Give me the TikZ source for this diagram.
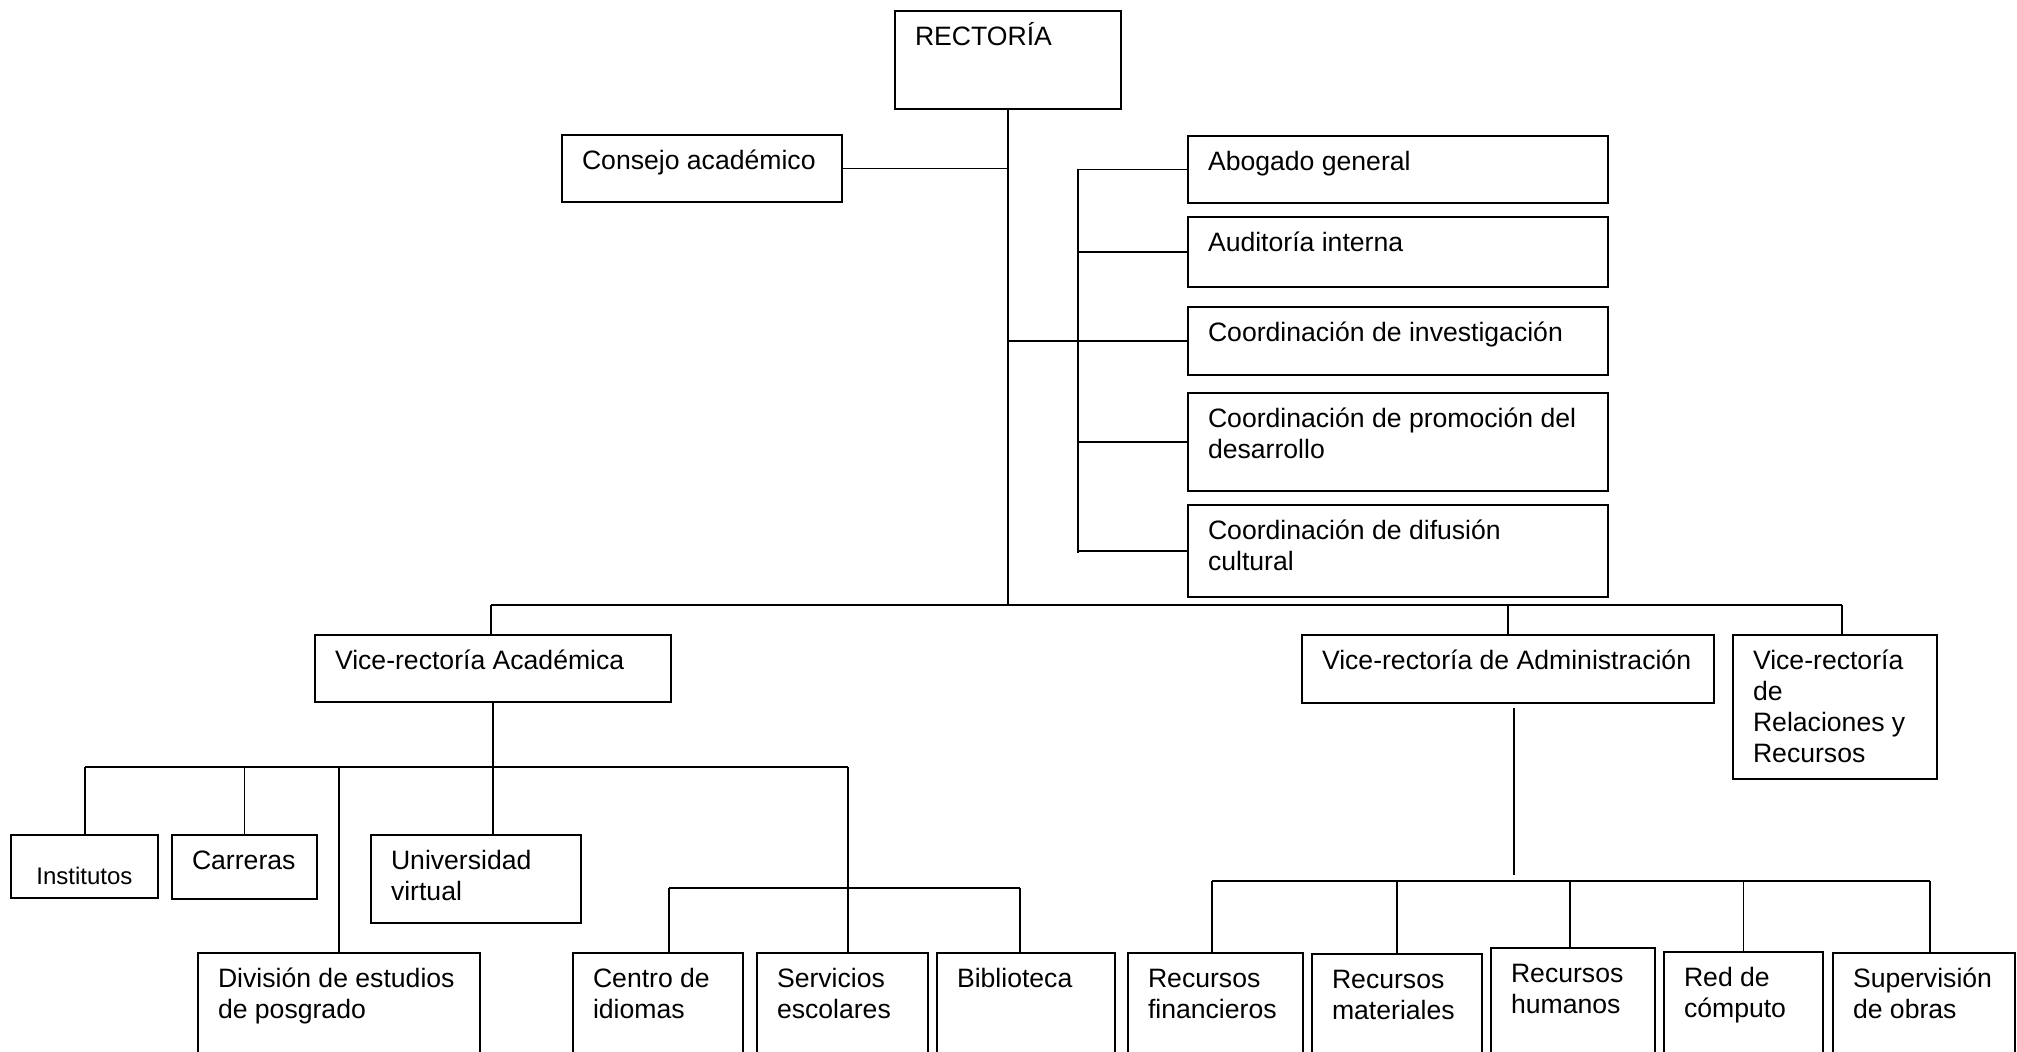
\documentclass[tikz,border=0pt]{standalone}
\usepackage{fontspec}
\setmainfont{Liberation Sans}

\newcommand{\orgbox}[7][]{%
  \node[unit, minimum width={(#5-#3)*0.5pt}, minimum height={(#6-#4)*0.5pt},
        label={[txt,#1]north west:\begin{tabular}[t]{@{}l@{}}#7\end{tabular}}] (#2) at (#3,#4) {};}

\begin{document}
\begin{tikzpicture}[x=0.5pt,y=-0.5pt,
    unit/.style={draw,line width=1pt,anchor=north west,inner sep=0pt},
    txt/.style={anchor=base west,inner sep=0pt,xshift=10.3pt,yshift=-17.75pt,
                font=\fontsize{13.3}{15.5}\selectfont},
    link/.style={line width=0.9pt}]
\useasboundingbox[fill=white] (0,0) rectangle (2017,1051);

\orgbox{rect}{894}{10}{1120}{108}{RECTORÍA}
\orgbox{cons}{561}{134}{841}{201}{Consejo académico}
\orgbox{abog}{1187}{135}{1607}{202}{Abogado general}
\orgbox{audi}{1187}{216}{1607}{286}{Auditoría interna}
\orgbox{inv}{1187}{306}{1607}{374}{Coordinación de investigación}
\orgbox{prom}{1187}{392}{1607}{490}{Coordinación de promoción del\\desarrollo}
\orgbox{difu}{1187}{504}{1607}{596}{Coordinación de difusión\\cultural}
\orgbox{vra}{314}{634}{670}{701}{Vice-rectoría Académica}
\orgbox{vrad}{1301}{634}{1713}{702}{Vice-rectoría de Administración}
\orgbox{vrr}{1732}{634}{1936}{778}{Vice-rectoría\\de\\Relaciones y\\Recursos}
\orgbox[font=\fontsize{12}{14}\selectfont,xshift=2.7pt,yshift=-7.25pt]{inst}{10}{834}{157}{897}{Institutos}
\orgbox{carr}{171}{834}{316}{898}{Carreras}
\orgbox{univ}{370}{834}{580}{922}{Universidad\\virtual}
\orgbox{divi}{197}{952}{479}{1080}{División de estudios\\de posgrado}
\orgbox{cent}{572}{952}{742}{1080}{Centro de\\idiomas}
\orgbox{serv}{756}{952}{927}{1080}{Servicios\\escolares}
\orgbox{bibl}{936}{952}{1114}{1080}{Biblioteca}
\orgbox{rfin}{1127}{952}{1302}{1080}{Recursos\\financieros}
\orgbox{rmat}{1311}{953}{1481}{1080}{Recursos\\materiales}
\orgbox{rhum}{1490}{947}{1654}{1080}{Recursos\\humanos}
\orgbox{rcom}{1663}{951}{1822}{1080}{Red de\\cómputo}
\orgbox{supe}{1832}{952}{2014}{1080}{Supervisión\\de obras}

\coordinate (mb1) at (491,605);
\coordinate (mb2) at (1842,605);
\coordinate (st2) at (1078,553);
\coordinate (ab1) at (85,767);
\coordinate (ab2) at (848,767);
\coordinate (cb1) at (669,888);
\coordinate (cb2) at (1020,888);
\coordinate (db1) at (1212,881);
\coordinate (db2) at (1930,881);

\draw[link] (cons.east) -- (cons.east -| rect.south);
\draw[link] (rect.south) -- (rect.south |- mb1);
\draw[link] (mb1) -- (mb2);
\draw[link] (mb1) -- (mb1 |- vra.north);
\draw[link] (vrad.north |- mb1) -- (vrad.north);
\draw[link] (mb2) -- (mb2 |- vrr.north);

\draw[link] (abog.west) -| (st2);
\foreach \b in {audi,prom,difu}
  \draw[link] (\b.west) -- (\b.west -| st2);
\draw[link] (inv.west) -- (inv.west -| rect.south);

\draw[link] (vra.south) -- (vra.south |- ab1);
\draw[link] (ab1) -- (ab2);
\draw[link] (ab1) -- (ab1 |- inst.north);
\foreach \b in {carr,divi}
  \draw[link] (\b.north |- ab1) -- (\b.north);
\draw[link] (vra.south |- ab1) -- (vra.south |- univ.north);
\draw[link] (ab2) -- (ab2 |- serv.north);
\draw[link] (cb1) -- (cb2);
\draw[link] (cb1) -- (cb1 |- cent.north);
\draw[link] (cb2) -- (cb2 |- bibl.north);

\draw[link] ([xshift=3pt,yshift=-2pt]vrad.south) -- ([xshift=3pt,yshift=3pt]vrad.south |- db1);
\draw[link] (db1) -- (db2);
\draw[link] (db1) -- (db1 |- rfin.north);
\foreach \b in {rmat,rcom}
  \draw[link] (\b.north |- db1) -- (\b.north);
\draw[link] ([xshift=-1.5pt]rhum.north |- db1) -- ([xshift=-1.5pt]rhum.north);
\draw[link] (db2) -- (db2 |- supe.north);
\end{tikzpicture}
\end{document}
